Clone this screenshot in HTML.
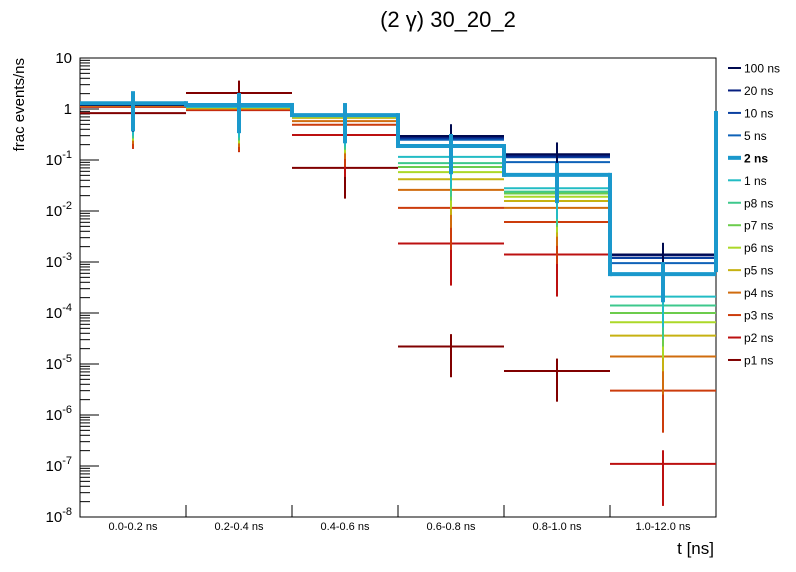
<!DOCTYPE html>
<html><head><meta charset="utf-8"><style>
body{margin:0;background:#fff}
svg{display:block;font-family:"Liberation Sans",sans-serif}
</style></head><body>
<svg id="c" width="796" height="572"></svg>
<script>
const categories=["0.0-0.2 ns","0.2-0.4 ns","0.4-0.6 ns","0.6-0.8 ns","0.8-1.0 ns","1.0-12.0 ns"];
const seriesNames=["100 ns","20 ns","10 ns","5 ns","2 ns","1 ns","p8 ns","p7 ns","p6 ns","p5 ns","p4 ns","p3 ns","p2 ns","p1 ns"];
const s100=[1.2,1.15,0.74,0.296,0.13,0.0014];
const s20=[1.2,1.15,0.74,0.28,0.122,0.00135];
const s10=[1.2,1.15,0.74,0.265,0.113,0.0012];
const s5=[1.2,1.15,0.74,0.25,0.091,0.00095];
const s2=[1.3,1.2,0.76,0.188,0.051,0.00058];
const s1=[1.2,1.1,0.74,0.115,0.028,0.00021];
const sp8=[1.2,1.1,0.73,0.087,0.024,0.00014];
const sp7=[1.2,1.1,0.72,0.073,0.022,0.0001];
const sp6=[1.2,1.08,0.7,0.058,0.019,0.000066];
const sp5=[1.2,1.05,0.67,0.042,0.0157,0.000036];
const sp4=[1.15,1.0,0.58,0.026,0.0115,0.000014];
const sp3=[1.12,0.97,0.49,0.0115,0.0061,0.000003];
const sp2=[1.1,0.95,0.31,0.0023,0.0014,0.00000011];
const sp1=[0.83,2.06,0.07,0.000022,0.0000073,0.000000001];
const relErr=[0.7,0.7,0.7,0.7,0.72,0.75,0.78,0.78,0.8,0.8,0.82,0.85,0.85,0.75];
const yTickExp=[1,0,-1,-2,-3,-4,-5,-6,-7,-8];
const allSeries=[s100,s20,s10,s5,s2,s1,sp8,sp7,sp6,sp5,sp4,sp3,sp2,sp1];
const colors=["#000a50","#061e80","#0a40a0","#0f62b8","#1a98cc","#22bcc4","#3ec88c","#6ccc4c","#acd828","#c6b212","#d06c0e","#cc3c0c","#bc1010","#800000"];
const X0=80,X1=716,Y0=58,Y1=517;
const NS="http://www.w3.org/2000/svg";
const svg=document.getElementById('c');
function xs(i){return X0+(X1-X0)*i/categories.length;}
function ys(v){v=Math.max(v,1e-9);return Y0+(1-Math.log10(v))*(Y1-Y0)/9;}
function mk(t,a,p){const e=document.createElementNS(NS,t);for(const k in a)e.setAttribute(k,a[k]);(p||svg).appendChild(e);return e;}
function clampY(y){return Math.min(Math.max(y,Y0),Y1);}
const fr=mk('rect',{x:X0,y:Y0,width:X1-X0,height:Y1-Y0,fill:'none',stroke:'#000','stroke-width':1});


const yax=mk('g',{});


for(let e=1;e>=-8;e--){
  const y=ys(Math.pow(10,e));
  mk('line',{x1:X0,x2:X0+19,y1:y,y2:y,stroke:'#000'},yax);
  if(e>-8)for(let m=2;m<=9;m++){const yy=ys(m*Math.pow(10,e-1));mk('line',{x1:X0,x2:X0+10,y1:yy,y2:yy,stroke:'#000'},yax);}
}
yTickExp.forEach(e=>{
  const y=ys(Math.pow(10,e));
  const t=mk('text',{x:X0-8,y:y+5,'text-anchor':'end','font-size':15},yax);
  
  
  if(e===1)t.textContent='10';else if(e===0)t.textContent='1';
  else{t.textContent='10';const s=mk('tspan',{dy:-7,'font-size':11},t);s.textContent=String(e);}
});
const xax=mk('g',{});


for(let i=1;i<categories.length;i++)mk('line',{x1:xs(i),x2:xs(i),y1:Y1,y2:Y1-12,stroke:'#000'},xax);
categories.forEach((c,i)=>{
  const t=mk('text',{x:(xs(i)+xs(i+1))/2,y:530,'text-anchor':'middle','font-size':11},xax);
  
  
  t.textContent=c;
});
const order=[13,12,11,10,9,8,7,6,5,3,2,1,0,4];
order.forEach(si=>{
  const g=mk('g',{});
  
  
  const w=si===4?4:2,col=colors[si],d=allSeries[si];
  d.forEach((v,i)=>{
    const y=ys(v);
    if(y<=Y1){
      const l=mk('line',{x1:xs(i),x2:xs(i+1),y1:y,y2:y,stroke:col,'stroke-width':w},g);
      
      
    }
    const cx=(xs(i)+xs(i+1))/2;
    const e=v*relErr[si];
    const yt=clampY(ys(v+e)),yb=clampY(ys(v-e));
    if(yt<Y1){
      const eb=mk('line',{x1:cx,x2:cx,y1:yt,y2:yb,stroke:col,'stroke-width':w},g);
      
      
    }
    if(si===4){
      const yn=i<d.length-1?ys(d[i+1]):ys(1);
      mk('line',{x1:xs(i+1),x2:xs(i+1),y1:y-w/2,y2:yn+w/2,stroke:col,'stroke-width':w},g);
    }
  });
});
const lg=mk('g',{});


seriesNames.forEach((n,i)=>{
  const y=68+i*22.46;
  const e=mk('g',{},lg);
  
  
  mk('line',{x1:728,x2:741,y1:y,y2:y,stroke:colors[i],'stroke-width':i===4?4:2},e);
  const t=mk('text',{x:744,y:y+4.5,'font-size':12},e);
  t.textContent=n;
  if(i===4)t.setAttribute('font-weight','bold');
});
let t=mk('text',{x:448,y:27,'text-anchor':'middle','font-size':22});


t.textContent='(2 γ) 30_20_2';
t=mk('text',{x:0,y:0,'text-anchor':'end','font-size':15,transform:'translate(24,58) rotate(-90)'});


t.textContent='frac events/ns';
t=mk('text',{x:714,y:554,'text-anchor':'end','font-size':17});


t.textContent='t [ns]';
</script>
</body></html>
